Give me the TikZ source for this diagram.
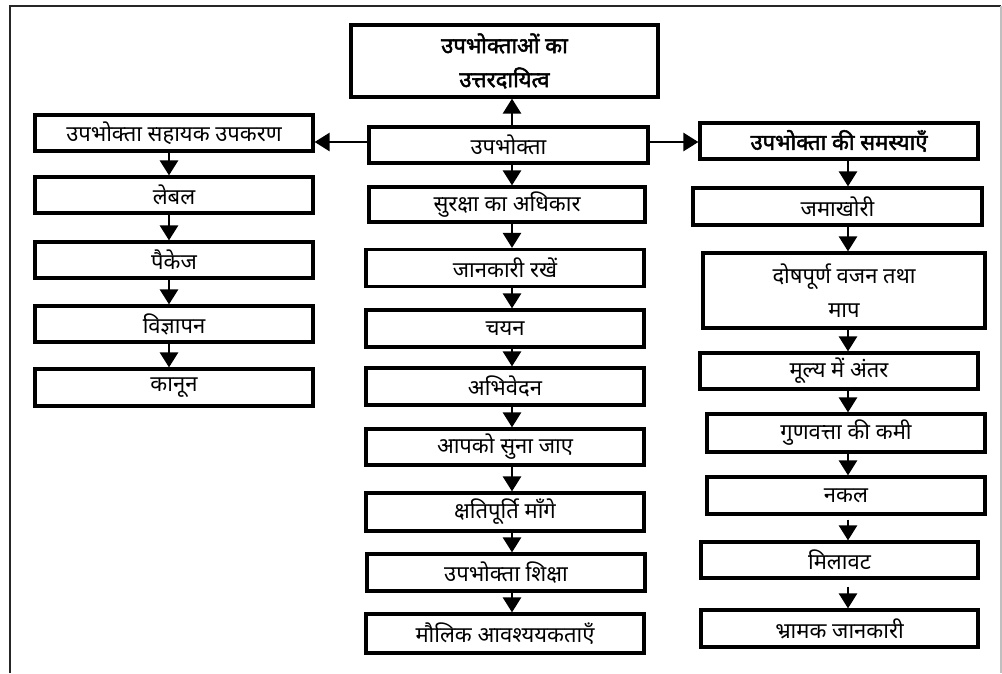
\documentclass[tikz,border=0pt]{standalone}
\usepackage{fontspec}
\newfontfamily\hindi[Script=Devanagari]{Noto Sans}
\newfontfamily\hindibold[Script=Devanagari, FakeBold=2.2]{Noto Sans}
\usetikzlibrary{arrows.meta}
\begin{document}
\begin{tikzpicture}[x=1pt, y=-1pt,
   box/.style={draw, line width=3.2pt, inner sep=0pt, minimum width=278pt,
      minimum height=37pt, align=center, font=\hindi\fontsize{22}{34}\selectfont},
   headbox/.style={box, font=\hindibold\fontsize{22}{34}\selectfont},
   arr/.style={line width=2.6pt, -{Triangle[length=15pt,width=18pt]}}]
\useasboundingbox (0,0) rectangle (1002,673);
\draw[line width=2.6pt, black!85] (10,673) -- (10,6) -- (1001,6);
\draw[line width=1.2pt, black!25] (1001,6) -- (1001,673);

% middle column
\node[headbox, minimum width=307pt, minimum height=72pt] (dayitva) at (504.5,61) {उपभोक्ताओं का\\उत्तरदायित्व};
\node[box, minimum width=279pt, minimum height=36pt] (upa) at (508.5,145) {उपभोक्ता};
\node[box, minimum width=276pt, minimum height=35pt] (suraksha) at (507,204.5) {सुरक्षा का अधिकार};
\node[box] (jankari) at (505,268) {जानकारी रखें};
\node[box] (chayan) at (505,328.5) {चयन};
\node[box] (abhivedan) at (505,386.5) {अभिवेदन};
\node[box, minimum height=36pt] (suna) at (505,447) {आपको सुना जाए};
\node[box, minimum height=38pt] (kshati) at (505,512) {क्षतिपूर्ति माँगे};
\node[box] (shiksha) at (506,572.5) {उपभोक्ता शिक्षा};
\node[box, minimum height=39pt] (maulik) at (505,633.5) {मौलिक आवश्ययकताएँ};

% left column
\node[box, minimum height=36pt] (sahayak) at (174,133) {उपभोक्ता सहायक उपकरण};
\node[box, minimum height=36pt] (lebal) at (174,195) {लेबल};
\node[box, minimum height=36pt] (paikej) at (174,260) {पैकेज};
\node[box, minimum height=36pt] (vigyapan) at (174,324) {विज्ञापन};
\node[box] (kanoon) at (174,387.5) {कानून};

% right column
\node[headbox, minimum height=36pt] (samasya) at (839,141) {उपभोक्ता की समस्याएँ};
\node[box, minimum width=289pt] (jamakhori) at (837.5,206.5) {जमाखोरी};
\node[box, minimum width=282pt, minimum height=75pt] (dosh) at (844,290.5) {दोषपूर्ण वजन तथा\\माप};
\node[box, minimum height=36pt] (mulya) at (839,371) {मूल्य में अंतर};
\node[box, minimum height=38pt] (gun) at (846,433) {गुणवत्ता की कमी};
\node[box] (nakal) at (846,495.5) {नकल};
\node[box, minimum width=277pt, minimum height=36pt] (milavat) at (839.5,560) {मिलावट};
\node[box, minimum width=277pt] (bhramak) at (839.5,628.5) {भ्रामक जानकारी};

\coordinate (mx) at (512,0);
\coordinate (lx) at (169,0);
\coordinate (rx) at (848,0);
\coordinate (hy) at (0,142);

\draw[arr] (mx |- upa.north) -- (mx |- dayitva.south);
\draw[arr] (upa.west |- hy) -- (sahayak.east |- hy);
\draw[arr] (upa.east |- hy) -- (samasya.west |- hy);

\draw[arr] (mx |- upa.south) -- (mx |- suraksha.north);
\draw[arr] (mx |- suraksha.south) -- (mx |- jankari.north);
\draw[arr] (mx |- jankari.south) -- (mx |- chayan.north);
\draw[arr] (mx |- chayan.south) -- (mx |- abhivedan.north);
\draw[arr] (mx |- abhivedan.south) -- (mx |- suna.north);
\draw[arr] (mx |- suna.south) -- (mx |- kshati.north);
\draw[arr] (mx |- kshati.south) -- (mx |- shiksha.north);
\draw[arr] (mx |- shiksha.south) -- (mx |- maulik.north);

\draw[arr] (lx |- sahayak.south) -- (lx |- lebal.north);
\draw[arr] (lx |- lebal.south) -- (lx |- paikej.north);
\draw[arr] (lx |- paikej.south) -- (lx |- vigyapan.north);
\draw[arr] (lx |- vigyapan.south) -- (lx |- kanoon.north);

\draw[arr] (rx |- samasya.south) -- (rx |- jamakhori.north);
\draw[arr] (rx |- jamakhori.south) -- (rx |- dosh.north);
\draw[arr] (rx |- dosh.south) -- (rx |- mulya.north);
\draw[arr] (rx |- mulya.south) -- (rx |- gun.north);
\draw[arr] (rx |- gun.south) -- (rx |- nakal.north);
\draw[arr] ([yshift=-4pt]rx |- nakal.south) -- (rx |- milavat.north);
\draw[arr] ([yshift=-7pt]rx |- milavat.south) -- (rx |- bhramak.north);
\end{tikzpicture}
\end{document}
